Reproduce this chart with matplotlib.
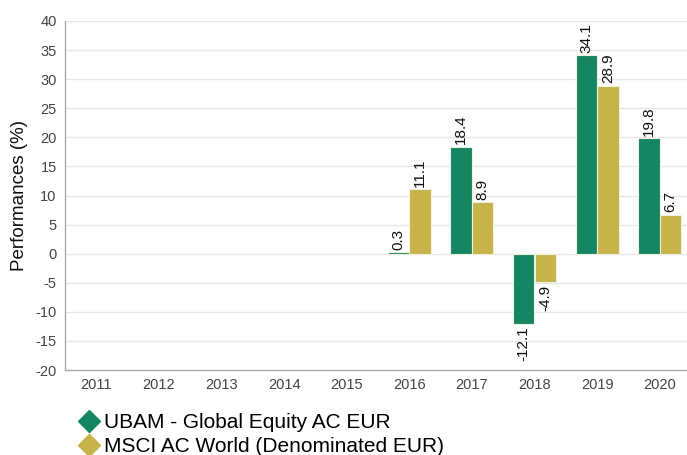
import matplotlib.pyplot as plt
import numpy as np
from matplotlib.lines import Line2D

plt.rcParams['font.family'] = ['Liberation Sans', 'DejaVu Sans']
plt.rcParams['axes.unicode_minus'] = False

years = ['2011', '2012', '2013', '2014', '2015', '2016', '2017', '2018', '2019', '2020']
fund = [None, None, None, None, None, 0.3, 18.4, -12.1, 34.1, 19.8]
index = [None, None, None, None, None, 11.1, 8.9, -4.9, 28.9, 6.7]
fund_name = 'UBAM - Global Equity AC EUR'
index_name = 'MSCI AC World (Denominated EUR)'

green = '#168662'
gold = '#c6b349'

fig = plt.figure(figsize=(6.87, 4.55), dpi=100)
ax = fig.add_axes([65/687, 85/455, 626/687, 349/455])

x = np.arange(len(years))
w = 0.345

for vals, off, col in [(fund, -w/2, green), (index, w/2, gold)]:
    for i, v in enumerate(vals):
        if v is None:
            continue
        ax.bar(x[i] + off, v, width=w, color=col, edgecolor='#f0f0e0', linewidth=0.8, zorder=3)
        if v >= 0:
            ax.text(x[i] + off, v + 0.4, f'{v:.1f}', rotation=90, ha='center', va='bottom', fontsize=11, color='#111111')
        else:
            ax.text(x[i] + off, v - 0.4, f'{v:.1f}', rotation=90, ha='center', va='top', fontsize=11, color='#111111')

ax.set_xlim(-0.5, len(years) - 0.5)
ax.set_ylim(-20, 40)
ax.set_yticks(range(-20, 41, 5))
ax.set_xticks(x)
ax.set_xticklabels(years)
ax.tick_params(axis='both', length=0, labelsize=10.5, labelcolor='#444444')
ax.tick_params(axis='y', pad=6)
ax.tick_params(axis='x', pad=6)
ax.grid(axis='y', color='#e6e6e6', linewidth=1, zorder=0)
ax.set_axisbelow(True)
for s in ['top', 'right']:
    ax.spines[s].set_visible(False)
for s in ['left', 'bottom']:
    ax.spines[s].set_color('#aaaaaa')
    ax.spines[s].set_linewidth(1)
ax.set_ylabel('Performances (%)', fontsize=13.5, color='#111111', labelpad=5)

handles = [Line2D([], [], marker='D', linestyle='none', color=green, markersize=11),
           Line2D([], [], marker='D', linestyle='none', color=gold, markersize=11)]
fig.legend(handles, [fund_name, index_name], loc='upper left', bbox_to_anchor=(68/687, 1 - 403/455),
           frameon=False, fontsize=15, handletextpad=0.25, labelspacing=0.22, borderpad=0, handlelength=1.0)

fig.savefig('out.png', dpi=100)
